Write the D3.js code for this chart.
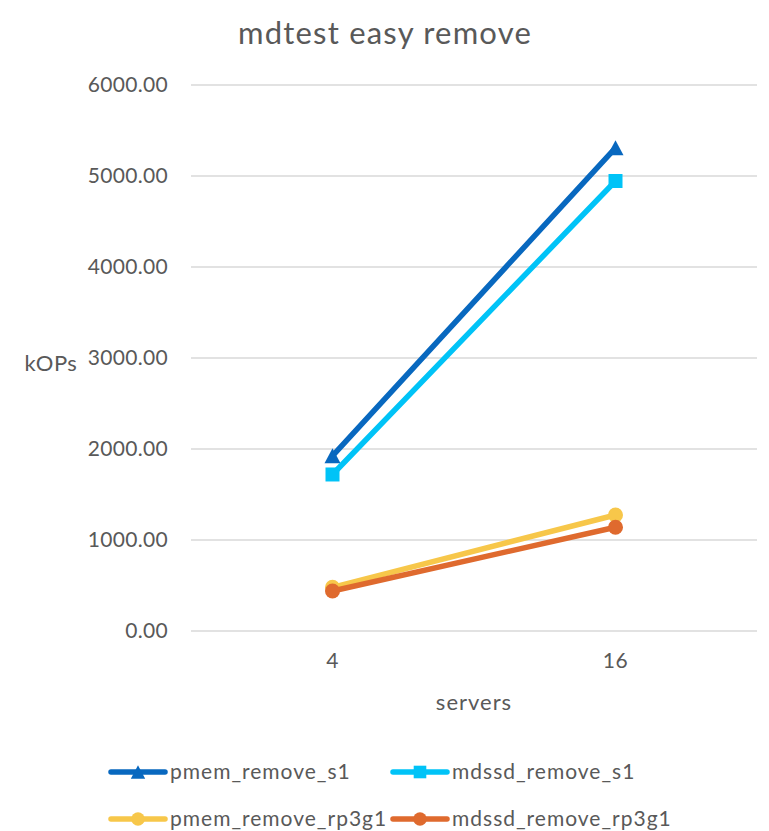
<!DOCTYPE html>
<html>
<head>
<meta charset="utf-8">
<script src="https://cdn.jsdelivr.net/npm/d3@7"></script>
<style>
  html, body { margin: 0; padding: 0; background: #fff; }
  svg { display: block; font-family: Lato, "Open Sans", sans-serif; }
</style>
</head>
<body>
<svg id="chart" width="769" height="831"></svg>
<script>
// Category axis (number of servers)
const servers = ["4", "16"];

// kOPs per series, one value per server count
const pmemRemoveS1 = [1925, 5310];
const mdssdRemoveS1 = [1720, 4945];
const pmemRemoveRp3g1 = [480, 1275];
const mdssdRemoveRp3g1 = [440, 1140];

const yTicks = [0, 1000, 2000, 3000, 4000, 5000, 6000];

const series = [
  { name: "pmem_remove_s1", values: pmemRemoveS1, color: "#0868BF", marker: "triangle" },
  { name: "mdssd_remove_s1", values: mdssdRemoveS1, color: "#00C3F7", marker: "square" },
  { name: "pmem_remove_rp3g1", values: pmemRemoveRp3g1, color: "#F7C74A", marker: "circle" },
  { name: "mdssd_remove_rp3g1", values: mdssdRemoveRp3g1, color: "#DF6A2E", marker: "circle" }
];

const svg = d3.select("#chart");
const textColor = "#595959";

const plot = { left: 191, right: 757, top: 85, bottom: 631 };

const x = d3.scaleBand().domain(servers).range([plot.left, plot.right]);
const y = d3.scaleLinear().domain([0, 6000]).range([plot.bottom, plot.top]);
const cx = d => x(d) + x.bandwidth() / 2;

// Title
svg.append("text")
  .attr("x", 385).attr("y", 44)
  .attr("text-anchor", "middle")
  .attr("font-size", 31)
  .attr("letter-spacing", 1.2)
  .attr("fill", textColor)
  .text("mdtest easy remove");

// Horizontal gridlines
svg.append("g")
  .selectAll("line")
  .data(yTicks)
  .join("line")
  .attr("x1", plot.left).attr("x2", plot.right)
  .attr("y1", d => y(d)).attr("y2", d => y(d))
  .attr("stroke", "#d9d9d9").attr("stroke-width", 1.5);

// Y axis labels
const yAxis = d3.axisLeft(y).tickValues(yTicks).tickFormat(d3.format(".2f")).tickSize(0).tickPadding(23);
const gy = svg.append("g").attr("transform", `translate(${plot.left},0)`).call(yAxis);
gy.select(".domain").remove();
gy.selectAll("text").attr("font-size", 21).attr("letter-spacing", 0.3)
  .attr("fill", textColor).attr("font-family", "Lato, sans-serif");

// X axis labels
const xAxis = d3.axisBottom(x).tickSize(0).tickPadding(22);
const gx = svg.append("g").attr("transform", `translate(0,${plot.bottom})`).call(xAxis);
gx.select(".domain").remove();
gx.selectAll("text").attr("font-size", 21).attr("letter-spacing", 0.5)
  .attr("fill", textColor).attr("font-family", "Lato, sans-serif");

// Axis titles
svg.append("text")
  .attr("x", (plot.left + plot.right) / 2).attr("y", 710)
  .attr("text-anchor", "middle")
  .attr("font-size", 22).attr("letter-spacing", 1)
  .attr("fill", textColor)
  .text("servers");

svg.append("text")
  .attr("x", 51).attr("y", 371)
  .attr("text-anchor", "middle")
  .attr("font-size", 22).attr("letter-spacing", 0.5)
  .attr("fill", textColor)
  .text("kOPs");

// Marker drawing helper
function drawMarker(g, type, px, py, color, scale) {
  const s = scale || 1;
  if (type === "triangle") {
    const h = 15 * s, w = 16 * s;
    g.append("path")
      .attr("d", `M${px},${py - h / 2} L${px + w / 2},${py + h / 2} L${px - w / 2},${py + h / 2} Z`)
      .attr("fill", color);
  } else if (type === "square") {
    const a = 14 * s;
    g.append("rect")
      .attr("x", px - a / 2).attr("y", py - a / 2)
      .attr("width", a).attr("height", a)
      .attr("fill", color);
  } else {
    g.append("circle")
      .attr("cx", px).attr("cy", py).attr("r", 7.5 * s)
      .attr("fill", color);
  }
}

// Series lines and markers
const line = d3.line().x((d, i) => cx(servers[i])).y(d => y(d));
series.forEach(s => {
  const g = svg.append("g");
  g.append("path")
    .attr("d", line(s.values))
    .attr("fill", "none")
    .attr("stroke", s.color)
    .attr("stroke-width", 5.5)
    .attr("stroke-linecap", "round");
  s.values.forEach((v, i) => drawMarker(g, s.marker, cx(servers[i]), y(v), s.color));
});

// Legend (two rows, two columns)
const legendPos = [
  { lx: 111, ly: 772 }, { lx: 393, ly: 772 },
  { lx: 111, ly: 819 }, { lx: 393, ly: 819 }
];
series.forEach((s, i) => {
  const p = legendPos[i];
  const g = svg.append("g");
  g.append("line")
    .attr("x1", p.lx).attr("x2", p.lx + 54)
    .attr("y1", p.ly).attr("y2", p.ly)
    .attr("stroke", s.color).attr("stroke-width", 5.5)
    .attr("stroke-linecap", "round");
  drawMarker(g, s.marker, p.lx + 27, p.ly, s.color, 0.9);
  g.append("text")
    .attr("x", p.lx + 59).attr("y", p.ly + 7)
    .attr("font-size", 21).attr("letter-spacing", 1)
    .attr("fill", textColor)
    .text(s.name);
});
</script>
</body>
</html>
